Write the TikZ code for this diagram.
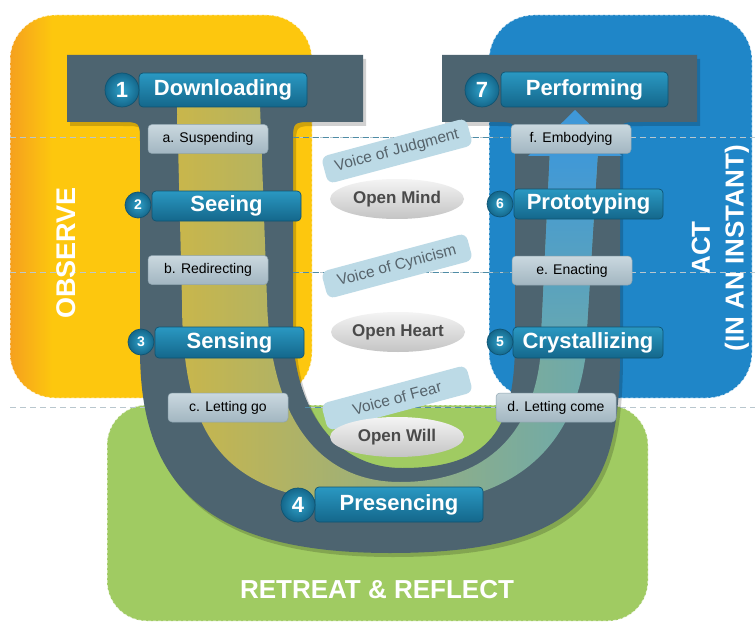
\documentclass[tikz,border=0pt]{standalone}
\usepackage{fontspec}
\setmainfont{Liberation Sans}
\usetikzlibrary{shapes.geometric}
\definecolor{obsA}{HTML}{F5A01E}
\definecolor{obsB}{HTML}{FDC70E}
\definecolor{actC}{HTML}{1F86C8}
\definecolor{retC}{HTML}{A0CB62}
\definecolor{slate}{HTML}{4D6470}
\definecolor{btntop}{HTML}{2A98C2}
\definecolor{btnbot}{HTML}{14678B}
\definecolor{btnborder}{HTML}{0F5472}
\definecolor{numin}{HTML}{2FA0C8}
\definecolor{lblTop}{HTML}{CAD8DF}
\definecolor{lblBot}{HTML}{A2B6C1}
\definecolor{lblEdge}{HTML}{8FA5B0}
\definecolor{voiceC}{HTML}{BCDAE6}
\definecolor{voiceText}{HTML}{56636B}
\definecolor{ellTop}{HTML}{F4F4F4}
\definecolor{ellBot}{HTML}{C4C4C4}
\definecolor{ellText}{HTML}{4A4A4A}
\definecolor{dashLight}{HTML}{B9C7CE}
\definecolor{dashDark}{HTML}{4E8CA6}
\definecolor{bandL}{HTML}{C9B64B}
\definecolor{bandM}{HTML}{95BF6C}
\definecolor{bandR}{HTML}{6AA9AE}
\definecolor{bandTop}{HTML}{3F98D8}
\pgfdeclarehorizontalshading{obsshade}{100bp}{color(0bp)=(obsA); color(25bp)=(obsA); color(32bp)=(obsB); color(100bp)=(obsB)}
\begin{document}
\begin{tikzpicture}[x=1pt,y=-1pt,
  btn/.style={draw=btnborder, line width=0.7pt, rounded corners=4pt, top color=btntop, bottom color=btnbot, text=white, font=\bfseries\fontsize{22}{24}\selectfont, inner sep=0pt},
  num/.style={circle, draw=btnborder, line width=0.7pt, inner color=numin, outer color=btnbot, text=white, inner sep=0pt},
  sublbl/.style={draw=lblEdge, line width=0.5pt, rounded corners=4pt, top color=lblTop, bottom color=lblBot, text=black, font=\fontsize{14}{16}\selectfont, minimum width=120pt, minimum height=29pt, inner sep=0pt},
  voice/.style={fill=voiceC, rounded corners=7pt, rotate=15, text=voiceText, font=\fontsize{15.5}{17}\selectfont, minimum width=150pt, minimum height=28pt, inner sep=0pt},
  openell/.style={ellipse, top color=ellTop, bottom color=ellBot, text=ellText, font=\bfseries\fontsize{17}{19}\selectfont, minimum width=134pt, minimum height=40pt, inner sep=0pt},
  bigtxt/.style={text=white, font=\bfseries\fontsize{26}{28}\selectfont},
  regionedge/.style={draw=white, line width=1pt, dash pattern=on 3pt off 2pt, opacity=0.7},
  lightdash/.style={draw=dashLight, line width=1pt, dash pattern=on 6pt off 4pt},
  darkdash/.style={draw=dashDark, line width=1pt, dash pattern=on 6pt off 4pt}
]
\useasboundingbox (0,0) rectangle (755,623);
\fill[white] (0,0) rectangle (755,623);
% regions
\shade[shading=obsshade, rounded corners=45pt] (10,15) rectangle (312,398);
\fill[actC, rounded corners=45pt] (489,15) rectangle (752,398);
\fill[retC, rounded corners=40pt] (107,405) rectangle (648,621);
\path[regionedge, rounded corners=45pt] (10,15) rectangle (312,398);
\path[regionedge, rounded corners=45pt] (489,15) rectangle (752,398);
\path[regionedge, rounded corners=40pt] (107,405) rectangle (648,621);
% dashed level lines
\coordinate (la) at (10,138); \coordinate (ra) at (755,138);
\coordinate (lb) at (10,272); \coordinate (rb) at (755,272);
\coordinate (lc) at (10,407); \coordinate (rc) at (755,407);
\path[lightdash] (la) -- (ra);
\path[lightdash] (lb) -- (rb);
\path[lightdash] (lc) -- (rc);
% U shadow
\fill[black, opacity=0.18, shift={(3,4)}] (67,55) -- (363,55) -- (363,122) -- (313,122) .. controls (293,122) .. (293,142) -- (293,330) .. controls (293,400) and (330,468) .. (402,468) .. controls (490,468) and (515,430) .. (515,340) -- (515,142) .. controls (515,122) .. (495,122) -- (442,122) -- (442,55) -- (697,55) -- (697,122) -- (640,122) .. controls (620,122) .. (620,142) -- (620,350) .. controls (620,480) and (595,553) .. (390,553) .. controls (200,553) and (140,480) .. (140,350) -- (140,142) .. controls (140,122) .. (120,122) -- (67,122) -- cycle;
% U
\fill[slate] (67,55) -- (363,55) -- (363,122) -- (313,122) .. controls (293,122) .. (293,142) -- (293,330) .. controls (293,400) and (330,468) .. (402,468) .. controls (490,468) and (515,430) .. (515,340) -- (515,142) .. controls (515,122) .. (495,122) -- (442,122) -- (442,55) -- (697,55) -- (697,122) -- (640,122) .. controls (620,122) .. (620,142) -- (620,350) .. controls (620,480) and (595,553) .. (390,553) .. controls (200,553) and (140,480) .. (140,350) -- (140,142) .. controls (140,122) .. (120,122) -- (67,122) -- cycle;
% band
\shade[left color=bandL, middle color=bandM, right color=bandR] (177,105) -- (182,300) .. controls (182,450) and (230,505) .. (395,505) .. controls (500,505) and (570,460) .. (585,360) -- (598,150) -- (550,150) -- (540,360) .. controls (530,440) and (480,482) .. (400,482) .. controls (320,482) and (270,420) .. (267,300) -- (260,105) -- cycle;
\shade[top color=bandTop, bottom color=bandR] (550,150) -- (598,150) -- (585,360) -- (540,360) -- cycle;
\fill[bandTop] (575,110) -- (622,156) -- (528,156) -- cycle;
% middle dark dashes
\coordinate (ma1) at (293,138); \coordinate (ma2) at (515,138);
\coordinate (mb1) at (293,272); \coordinate (mb2) at (515,272);
\coordinate (mc1) at (305,407); \coordinate (mc2) at (500,407);
\path[darkdash] (ma1) -- (ma2);
\path[darkdash] (mb1) -- (mb2);
\path[darkdash] (mc1) -- (mc2);
% voices
\node[voice] (vj) at (397,151) {Voice of Judgment};
\node[voice] (vc) at (397,266) {Voice of Cynicism};
\node[voice] (vf) at (397,398) {Voice of Fear};
% open ellipses
\node[openell] (om) at (397,199) {Open Mind};
\node[openell] (oh) at (398,332) {Open Heart};
\node[openell] (ow) at (397,437) {Open Will};
% buttons
\node[btn, minimum width=168pt, minimum height=34pt] (b1) at (223,90) {Downloading};
\node[btn, minimum width=149pt, minimum height=30pt] (b2) at (226.5,206) {Seeing};
\node[btn, minimum width=149pt, minimum height=31pt] (b3) at (229.5,342.5) {Sensing};
\node[btn, minimum width=168pt, minimum height=35pt] (b4) at (399,504.5) {Presencing};
\node[btn, minimum width=150pt, minimum height=31pt] (b5) at (588,342.5) {Crystallizing};
\node[btn, minimum width=149pt, minimum height=30pt] (b6) at (588.5,204) {Prototyping};
\node[btn, minimum width=167pt, minimum height=35pt] (b7) at (584.5,89.5) {Performing};
% numbers
\node[num, minimum size=34pt, font=\bfseries\fontsize{22}{24}\selectfont] (n1) at (122,90) {1};
\node[num, minimum size=26pt, font=\bfseries\fontsize{14}{16}\selectfont] (n2) at (138,205) {2};
\node[num, minimum size=26pt, font=\bfseries\fontsize{14}{16}\selectfont] (n3) at (141,342) {3};
\node[num, minimum size=34pt, font=\bfseries\fontsize{22}{24}\selectfont] (n4) at (298,505) {4};
\node[num, minimum size=26pt, font=\bfseries\fontsize{14}{16}\selectfont] (n5) at (500,342) {5};
\node[num, minimum size=26pt, font=\bfseries\fontsize{14}{16}\selectfont] (n6) at (500,204) {6};
\node[num, minimum size=34pt, font=\bfseries\fontsize{22}{24}\selectfont] (n7) at (482,90) {7};
% sub labels
\node[sublbl] (sa) at (208,139) {a. Suspending};
\node[sublbl] (sb) at (208,270) {b. Redirecting};
\node[sublbl] (sc) at (228,407.5) {c. Letting go};
\node[sublbl] (sd) at (556,407.5) {d. Letting come};
\node[sublbl] (se) at (572,270.5) {e. Enacting};
\node[sublbl] (sf) at (571,139) {f. Embodying};
% big texts
\node[bigtxt, rotate=90, font=\bfseries\fontsize{27}{29}\selectfont] (obs) at (66,253) {OBSERVE};
\node[bigtxt, rotate=90] (act) at (701,248) {ACT};
\node[bigtxt, rotate=90] (inst) at (737,248) {(IN AN INSTANT)};
\node[bigtxt] (ret) at (377,590) {RETREAT \& REFLECT};
\end{tikzpicture}
\end{document}
